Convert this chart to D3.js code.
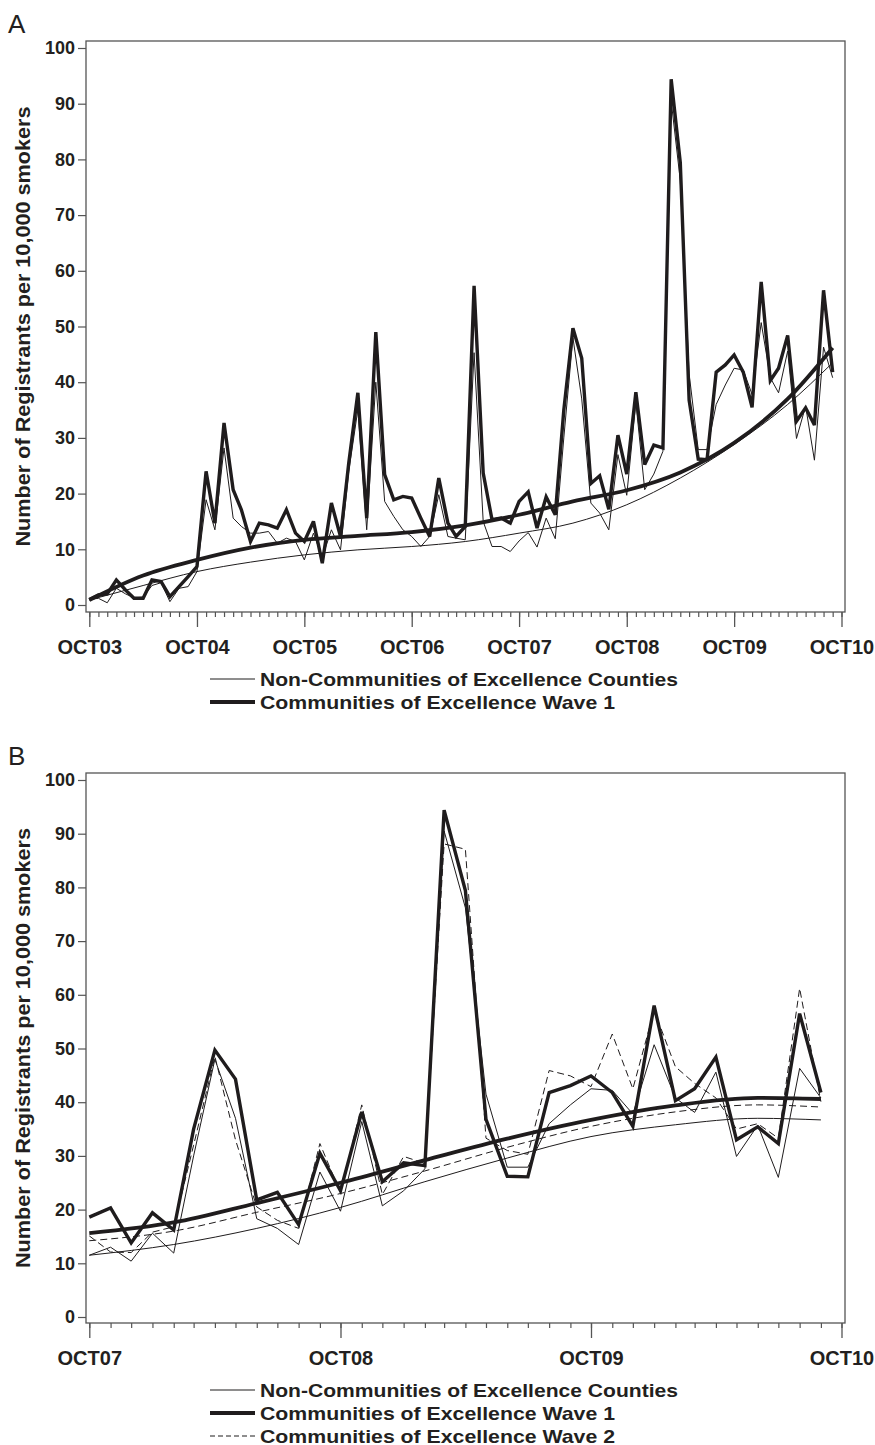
<!DOCTYPE html>
<html>
<head>
<meta charset="utf-8">
<script src="https://cdn.jsdelivr.net/npm/d3@7"></script>
<style>
body { margin: 0; background: #fff; }
svg text { font-family: "Liberation Sans", Arial, Helvetica, sans-serif; fill: #231f20; }
</style>
</head>
<body>
<svg id="chart" width="875" height="1445"></svg>
<script>
// registrants per 10,000 smokers, one value per month OCT03 .. SEP10
var wave1 = [
	1.0, 1.8, 2.0, 4.5, 2.7, 1.2, 1.2, 4.5, 4.2, 1.5, 3.3, 5.1,
	6.9, 24, 14.7, 32.7, 20.7, 17.1, 11.4, 14.7, 14.4, 13.8, 17.1, 12.9,
	11.4, 15, 7.5, 18.3, 12.3, 25.5, 38.1, 15.6, 49, 23.4, 18.9, 19.5,
	19.2, 15.6, 12.3, 22.8, 14.7, 12.3, 14.1, 57.3, 23.7, 15.3, 15.6, 14.7,
	18.6, 20.3, 13.8, 19.4, 16.2, 35, 49.7, 44.3, 21.8, 23.2, 17.2, 30.5,
	23.5, 38.2, 25.2, 28.7, 28.2, 94.4, 79.4, 36.8, 26.2, 26.1, 41.8, 43.1,
	44.9, 41.8, 35.5, 58, 40.3, 42.5, 48.4, 33, 35.4, 32.3, 56.5, 41.8
];
var nonCoe = [
	1.0, 1.2, 0.4, 3.0, 2.0, 1.3, 1.4, 3.5, 4.0, 0.6, 3.0, 3.3,
	6.0, 18.9, 13.5, 28.2, 15.6, 14.1, 12.9, 12.9, 13.2, 11.1, 12, 11.4,
	8.1, 12.9, 8.5, 13.5, 9.9, 24, 35.1, 13.5, 40, 18.6, 15.9, 13.5,
	12.3, 10.5, 12.3, 19.8, 12.3, 12, 11.7, 45.3, 15, 10.5, 10.5, 9.6,
	11.5, 13, 10.4, 15.6, 11.9, 30, 48, 37, 18.3, 16.5, 13.5, 27,
	19.7, 36.4, 20.7, 23.5, 27.6, 90.5, 76.2, 41.5, 27.9, 27.9, 36, 39.5,
	42.5, 42.2, 37.8, 50.7, 40.8, 38.1, 45.6, 29.9, 35.7, 26, 46.3, 40.8
];
// wave 2 only from OCT07 .. SEP10
var wave2 = [
	15.1, 12.1, 12, 15.8, 16.8, 32, 48.5, 33, 20.5, 18, 16.5, 32.3,
	23.1, 39.5, 22.8, 29.9, 28.6, 88.1, 87.1, 33.3, 31, 30.3, 45.9, 44.9,
	42.9, 52.7, 42.5, 57.1, 46.6, 43.5, 40.8, 35, 36, 33.3, 61.2, 40.1
];

// fitted trend curves, read at a few months
var fitMonthsA = [0, 6, 12, 18, 24, 30, 36, 42, 48, 54, 60, 66, 72, 78, 83];
var fitWave1A  = [0.9, 5.3, 8.1, 10.3, 11.7, 12.4, 13.1, 14.3, 16.2, 18.6, 20.6, 23.8, 29.1, 37, 46.2];
var fitNonA    = [0.9, 3.5, 6.0, 7.7, 9.0, 9.9, 10.5, 11.4, 12.9, 14.7, 18, 22.8, 28.8, 36, 43.5];

var fitMonthsB = [0, 4, 8, 12, 16, 20, 24, 28, 32, 35];
var fitWave1B  = [15.6, 17.6, 21.2, 25, 29.2, 33.2, 36.7, 39.4, 40.8, 40.6];
var fitWave2B  = [14.2, 16, 19.5, 23, 27.2, 31.6, 35.5, 38.2, 39.5, 39.1];
var fitNonB    = [11.5, 13.5, 16.5, 20.4, 25.2, 29.6, 33.6, 35.8, 37, 36.7];

var yTicks = [0, 10, 20, 30, 40, 50, 60, 70, 80, 90, 100];
var yearLabelsA = ["OCT03", "OCT04", "OCT05", "OCT06", "OCT07", "OCT08", "OCT09", "OCT10"];
var yearLabelsB = ["OCT07", "OCT08", "OCT09", "OCT10"];
var legendNames = ["Non-Communities of Excellence Counties", "Communities of Excellence Wave 1", "Communities of Excellence Wave 2"];

var ink = "#1f1c1d";
var svg = d3.select("#chart");

var styles = {
	non:   { width: 1, dash: null },
	wave1: { width: 3.4, dash: null },
	wave2: { width: 1, dash: "7,4" }
};

function drawPanel(p) {
	var g = svg.append("g");
	var start = p.start;
	var end = d3.timeYear.offset(start, p.labels.length - 1);

	var x = d3.scaleTime().domain([start, end]).range([89.3, 841.5]);
	var y = d3.scaleLinear().domain([0, 100]).range([p.y0, p.y100]);

	// panel letter
	g.append("text")
		.attr("x", 8).attr("y", p.top - 8)
		.attr("font-size", 26)
		.text(p.letter);

	// frame
	g.append("rect")
		.attr("x", 86).attr("y", p.top)
		.attr("width", 845 - 86).attr("height", p.bottom - p.top)
		.attr("fill", "none").attr("stroke", "#555").attr("stroke-width", 1.3);

	// y axis
	var ya = g.append("g")
		.attr("transform", "translate(86,0)")
		.call(d3.axisLeft(y).tickValues(yTicks).tickSize(8).tickPadding(3));
	ya.select(".domain").remove();
	ya.selectAll("line").attr("stroke", "#555").attr("stroke-width", 1.2);
	ya.selectAll("text")
		.attr("font-size", 18).attr("font-weight", "bold")
		.attr("font-family", null).attr("fill", ink);

	// monthly minor ticks
	var months = d3.timeMonth.range(start, d3.timeMonth.offset(end, 1));
	var xm = g.append("g")
		.attr("transform", "translate(0," + p.bottom + ")")
		.call(d3.axisBottom(x).tickValues(months).tickSize(5).tickFormat(""));
	xm.select(".domain").remove();
	xm.selectAll("line").attr("stroke", "#555").attr("stroke-width", 1.2);

	// yearly major ticks, one per label
	var years = p.labels.map(function(l, i) { return d3.timeYear.offset(start, i); });
	var xa = g.append("g")
		.attr("transform", "translate(0," + p.bottom + ")")
		.call(d3.axisBottom(x).tickValues(years).tickSize(15).tickPadding(13)
			.tickFormat(function(d, i) { return p.labels[i]; }));
	xa.select(".domain").remove();
	xa.selectAll("line").attr("stroke", "#555").attr("stroke-width", 1.3);
	xa.selectAll("text")
		.attr("font-size", 20).attr("font-weight", "bold")
		.attr("font-family", null).attr("fill", ink);

	// y title
	g.append("text")
		.attr("transform", "translate(30," + ((p.top + p.bottom) / 2) + ") rotate(-90)")
		.attr("text-anchor", "middle")
		.attr("font-size", 20).attr("font-weight", "bold")
		.attr("textLength", 440).attr("lengthAdjust", "spacingAndGlyphs")
		.text("Number of Registrants per 10,000 smokers");

	var rawLine = d3.line()
		.x(function(d, i) { return x(d3.timeMonth.offset(start, i)); })
		.y(function(d) { return y(d); });

	var fitLine = d3.line()
		.curve(d3.curveMonotoneX)
		.x(function(d) { return x(d3.timeMonth.offset(start, d[0])); })
		.y(function(d) { return y(d[1]); });

	p.series.forEach(function(s) {
		var st = styles[s.key];
		g.append("path")
			.attr("d", rawLine(s.raw))
			.attr("fill", "none").attr("stroke", ink)
			.attr("stroke-width", st.width)
			.attr("stroke-dasharray", st.dash)
			.attr("stroke-linejoin", "miter").attr("stroke-miterlimit", 3);
		g.append("path")
			.attr("d", fitLine(p.fitMonths.map(function(m, i) { return [m, s.fit[i]]; })))
			.attr("fill", "none").attr("stroke", ink)
			.attr("stroke-width", s.key == "wave1" ? 3.8 : st.width)
			.attr("stroke-dasharray", st.dash);
	});

	// legend
	var lg = g.append("g");
	p.legend.forEach(function(key, i) {
		var cy = p.bottom + 67 + i * 23;
		lg.append("line")
			.attr("x1", 210).attr("x2", 255)
			.attr("y1", cy).attr("y2", cy)
			.attr("stroke", ink)
			.attr("stroke-width", key == "wave1" ? 4 : 1)
			.attr("stroke-dasharray", key == "wave2" ? "5,3" : null);
		lg.append("text")
			.attr("x", 260).attr("y", cy + 6.5)
			.attr("font-size", 19).attr("font-weight", "bold")
			.attr("textLength", i == 0 ? 418 : 355).attr("lengthAdjust", "spacingAndGlyphs")
			.text(legendNames[["non", "wave1", "wave2"].indexOf(key)]);
	});
}

drawPanel({
	letter: "A",
	start: new Date(2003, 9, 1),
	labels: yearLabelsA,
	top: 41, bottom: 612, y0: 605, y100: 48,
	fitMonths: fitMonthsA,
	series: [
		{ key: "non", raw: nonCoe, fit: fitNonA },
		{ key: "wave1", raw: wave1, fit: fitWave1A }
	],
	legend: ["non", "wave1"]
});

drawPanel({
	letter: "B",
	start: new Date(2007, 9, 1),
	labels: yearLabelsB,
	top: 773, bottom: 1323, y0: 1317, y100: 780,
	fitMonths: fitMonthsB,
	series: [
		{ key: "non", raw: nonCoe.slice(48), fit: fitNonB },
		{ key: "wave2", raw: wave2, fit: fitWave2B },
		{ key: "wave1", raw: wave1.slice(48), fit: fitWave1B }
	],
	legend: ["non", "wave1", "wave2"]
});
</script>
</body>
</html>
